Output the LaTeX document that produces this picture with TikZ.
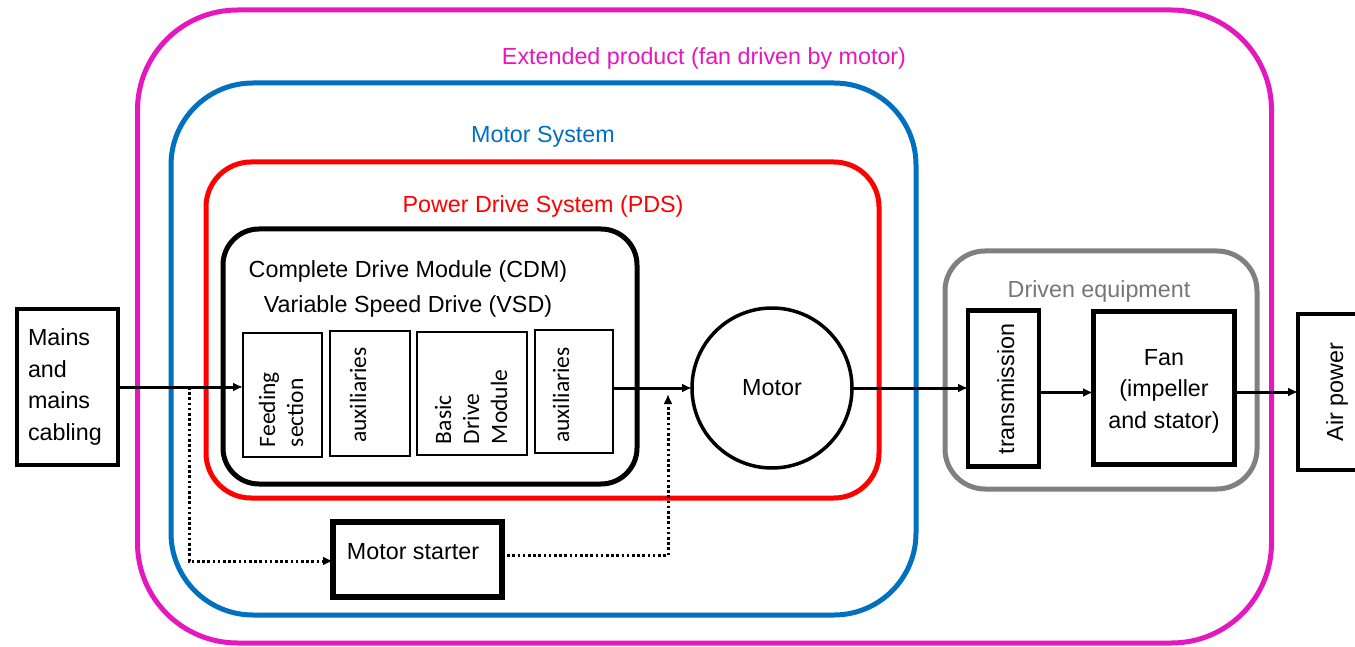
\documentclass[tikz,border=0pt]{standalone}
\usepackage{fontspec}
\setmainfont{Liberation Sans}
\newfontfamily\calib{Carlito}
\usetikzlibrary{arrows.meta}
\definecolor{extmag}{RGB}{228,24,188}
\definecolor{sysblue}{RGB}{0,112,192}
\definecolor{pdsred}{RGB}{255,0,0}
\definecolor{eqgrey}{RGB}{128,128,128}

\begin{document}
\begin{tikzpicture}[x=1pt,y=-1pt,
  every node/.style={inner sep=0pt, outer sep=0pt},
  txt/.style={font=\fontsize{23.3}{31.6}\selectfont},
  ctxt/.style={font=\calib\fontsize{23.5}{28}\selectfont},
  container/.style={draw, line width=5pt, rounded corners=#1},
  thinbox/.style={draw, line width=2.5pt},
  thickbox/.style={draw, line width=5pt},
  arr/.style={line width=3pt, -{Latex[length=10pt,width=9pt]}},
  dotarr/.style={line width=3pt, dash pattern=on 2.6pt off 2.6pt, -{Latex[length=10pt,width=9pt]}}
]
\useasboundingbox (0,0) rectangle (1355,647);
\clip (0,0) rectangle (1355,647);

% nested system boundaries
\node[container=100pt, draw=extmag, minimum width=1134pt, minimum height=633pt] (ext) at (704.5,326.5) {};
\node[container=82pt, draw=sysblue, minimum width=745pt, minimum height=532pt] (msys) at (543.5,349) {};
\node[container=45pt, draw=pdsred, minimum width=673pt, minimum height=336pt] (pds) at (542.5,330) {};
\node[container=36pt, draw=black, minimum width=414pt, minimum height=255pt] (cdm) at (430,356.5) {};
\node[container=40pt, draw=eqgrey, minimum width=312pt, minimum height=238pt] (deq) at (1101,370) {};

% boundary titles
\node[txt, text=extmag, anchor=base] (extt) at (704,65) {Extended product (fan driven by motor)};
\node[txt, text=sysblue, anchor=base] (msyst) at (543,143) {Motor System};
\node[txt, text=pdsred, anchor=base] (pdst) at (543,213) {Power Drive System (PDS)};
\node[txt, anchor=base] (cdmt) at (408,277) {Complete Drive Module (CDM)};
\node[txt, anchor=base] (vsdt) at (408,312) {Variable Speed Drive (VSD)};
\node[txt, text=eqgrey!92!black, anchor=base] (deqt) at (1099,297) {Driven equipment};

% supply
\node[draw, line width=4.5pt, minimum width=101pt, minimum height=156pt,
      text width=79pt, align=left, txt] (mains) at (67.5,387) {Mains\\and\\mains\\cabling};

% drive sections
\node[thinbox, minimum width=79pt, minimum height=124pt] (feed) at (282.5,395) {};
\node[thinbox, minimum width=80pt, minimum height=125pt] (auxa) at (370,393.5) {};
\node[thinbox, minimum width=110pt, minimum height=123pt] (bdm) at (472,393.5) {};
\node[thinbox, minimum width=78pt, minimum height=123pt] (auxb) at (574,391.5) {};
\node[ctxt, rotate=90, anchor=west, align=left] (feedt) at (281,447) {Feeding\\section};
\node[ctxt, rotate=90, anchor=base] (auxat) at (366,395) {auxiliaries};
\node[ctxt, rotate=90, anchor=west, align=left] (bdmt) at (471,444) {Basic\\Drive\\Module};
\node[ctxt, rotate=90, anchor=base] (auxbt) at (569,395) {auxiliaries};

% motor and starter
\node[draw, circle, line width=3.5pt, minimum size=160pt, txt] (motor) at (772,388) {Motor};
\node[draw, line width=5.5pt, minimum width=169pt, minimum height=75pt] (starter) at (417.5,559.5) {};
\node[txt, anchor=base] (startert) at (413,559) {Motor starter};

% driven equipment
\node[draw, line width=4.5pt, minimum width=71pt, minimum height=156pt] (trans) at (1003.5,388.5) {};
\node[txt, rotate=90, anchor=base] (transt) at (1014,389) {transmission};
\node[thickbox, minimum width=141pt, minimum height=153pt] (fan) at (1163.5,388) {};
\node[txt, align=center] (fant) at (1164,391) {Fan\\(impeller\\and stator)};
\node[draw, line width=4.5pt, minimum width=90pt, minimum height=156pt] (air) at (1343,392) {};
\node[txt, rotate=90, anchor=base] (airt) at (1343,392) {Air power};

% power flow
\draw[arr] (mains.east) -- (mains.east -| feed.west);
\draw[arr] (auxb.east |- motor.west) -- (motor.west);
\draw[arr] (motor.east) -- (motor.east -| trans.west);
\draw[arr] ([yshift=-4pt]trans.east) -- ([yshift=-4pt]trans.east -| fan.west);
\draw[arr] ([yshift=-4pt]fan.east) -- ([yshift=-4pt]fan.east -| air.west);

% starter bypass
\coordinate (tap) at (189,387);
\coordinate (join) at (668,394);
\draw[dotarr] (tap) |- ([yshift=-1.5pt]starter.west);
\draw[dotarr] ([yshift=4pt]starter.east) -| (join);
\end{tikzpicture}
\end{document}
